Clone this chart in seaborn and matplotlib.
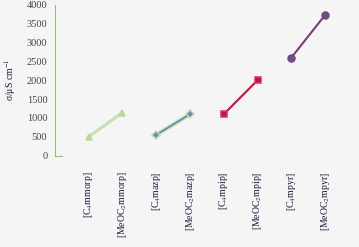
import numpy as np
import pandas as pd
import matplotlib
matplotlib.use("Agg")
import matplotlib.pyplot as plt
import seaborn as sns

labels = ["[C$_4$mmorp]", "[MeOC$_2$mmorp]",
          "[C$_4$mazp]", "[MeOC$_2$mazp]",
          "[C$_4$mpip]", "[MeOC$_2$mpip]",
          "[C$_4$mpyr]", "[MeOC$_2$mpyr]"]
conductivity = [500, 1140, 550, 1100, 1100, 2000, 2600, 3730]
family = ["morp", "morp", "azp", "azp", "pip", "pip", "pyr", "pyr"]

df = pd.DataFrame({"pos": np.arange(1, len(labels) + 1),
                   "sigma": conductivity,
                   "family": family})

styles = {
    "morp": dict(color="#c4e2ab", marker="^", markersize=5, mfc="#b5dc98", mec="#b5dc98", lw=2.2),
    "azp": dict(color="#5f7fbf", marker="D", markersize=4, mfc="#6a88c4", mec="#bfe0a6", lw=1.1),
    "pip": dict(color="#c8103c", marker="s", markersize=5, mfc="#c8103c", mec="#d6355c", lw=1.5),
    "pyr": dict(color="#7a3d78", marker="o", markersize=5, mfc="#5a568e", mec="#8a3f78", lw=1.5),
}

sns.set_style("white")
plt.rcParams["font.family"] = ["Liberation Serif", "DejaVu Serif"]
plt.rcParams["mathtext.fontset"] = "stix"

fig = plt.figure(figsize=(3.59, 2.47), dpi=100, facecolor="#f5f5f5")
ax = fig.add_axes([0.153, 0.37, 0.847, 0.611])
ax.set_facecolor("#f5f5f5")

# the green halo under the diamond line
sub = df[df.family == "azp"]
sns.lineplot(data=sub, x="pos", y="sigma", ax=ax, color="#c4e2ab", lw=3.0, legend=False)

for fam in ["morp", "azp", "pip", "pyr"]:
    sub = df[df.family == fam]
    st = styles[fam]
    sns.lineplot(data=sub, x="pos", y="sigma", ax=ax, color=st["color"], lw=st["lw"],
                 marker=st["marker"], markersize=st["markersize"],
                 markerfacecolor=st["mfc"], markeredgecolor=st["mec"],
                 markeredgewidth=1.1, legend=False)

ax.set_xlim(0, 9)
ax.set_ylim(0, 4000)
ax.set_yticks(np.arange(0, 4001, 500))
ax.set_xticks(np.arange(1, 10))
ax.set_xticklabels(labels + [""], rotation=90, fontsize=7, color="#1a1a3a")
ax.tick_params(axis="y", labelsize=7.5, colors="#444444", length=3, width=0.7,
               direction="inout", color="#8cc07a", pad=4)
ax.tick_params(axis="x", length=2.5, width=0.8, color="#8cc07a", pad=9)
ax.set_xlabel("")
ax.set_ylabel("σ/μS cm$^{-1}$", fontsize=7, color="#1a1a3a", labelpad=6)

for s in ["top", "right"]:
    ax.spines[s].set_visible(False)
ax.spines["left"].set_color("#8cc07a")
ax.spines["left"].set_linewidth(0.8)
ax.spines["bottom"].set_color("#8cc07a")
ax.spines["bottom"].set_linewidth(0.8)
ax.spines["bottom"].set_bounds(0, 0.2)

fig.savefig("out.png", dpi=100, facecolor=fig.get_facecolor())
